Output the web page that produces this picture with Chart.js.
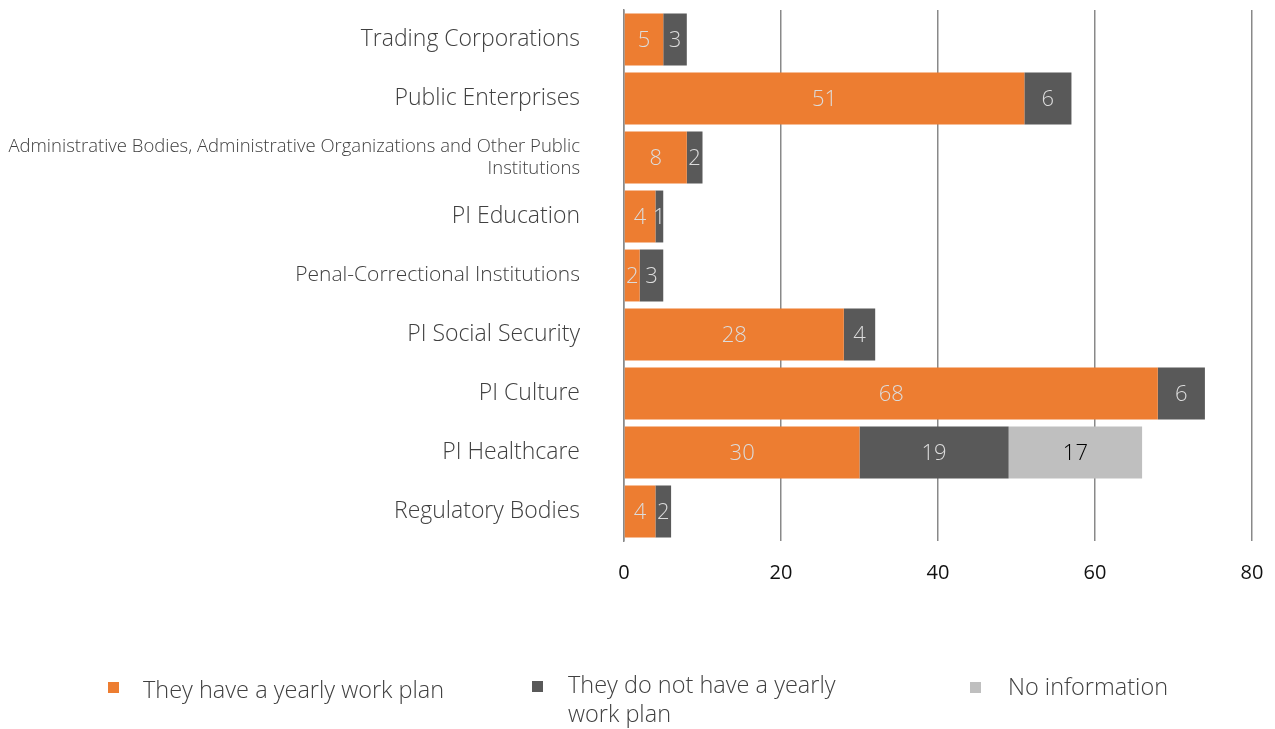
<!DOCTYPE html>
<html>
<head>
<meta charset="utf-8">
<script src="https://cdn.jsdelivr.net/npm/chart.js@4.4.1/dist/chart.umd.min.js"></script>
<style>
  html, body { margin: 0; padding: 0; background: #fff; }
  #wrap { position: relative; width: 1275px; height: 729px; }
  #chart { position: absolute; left: 0; top: 0; }
  .legend { position: absolute; font-family: "Open Sans", sans-serif; font-weight: 300; font-size: 23.5px; color: #404040; line-height: 29px; white-space: normal; }
  .sw { position: absolute; width: 11px; height: 11px; }
</style>
</head>
<body>
<div id="wrap">
  <canvas id="chart" width="1275" height="729"></canvas>
</div>
<script>
const categories = [
  'Trading Corporations',
  'Public Enterprises',
  ['Administrative Bodies, Administrative Organizations and Other Public', 'Institutions'],
  'PI Education',
  'Penal-Correctional Institutions',
  'PI Social Security',
  'PI Culture',
  'PI Healthcare',
  'Regulatory Bodies'
];
const seriesNames = ['They have a yearly work plan', 'They do not have a yearly work plan', 'No information'];
const withPlan    = [5, 51, 8, 4, 2, 28, 68, 30, 4];
const withoutPlan = [3, 6, 2, 1, 3, 4, 6, 19, 2];
const noInfo      = [null, null, null, null, null, null, null, 17, null];
const xTicks = [0, 20, 40, 60, 80];

const colors = ['#ED7D31', '#595959', '#BFBFBF'];
const labelColors = ['#dcdcdc', '#dcdcdc', '#000000'];
const FONT = '"Open Sans", sans-serif';

// Writes each segment's value in the middle of its bar
const valueLabels = {
  id: 'valueLabels',
  afterDatasetsDraw(chart) {
    const ctx = chart.ctx;
    ctx.save();
    ctx.font = '300 22px ' + FONT;
    ctx.textAlign = 'center';
    ctx.textBaseline = 'middle';
    chart.data.datasets.forEach((ds, di) => {
      const meta = chart.getDatasetMeta(di);
      meta.data.forEach((bar, i) => {
        const v = ds.data[i];
        if (v == null) return;
        const cx = (bar.x + bar.base) / 2;
        ctx.fillStyle = labelColors[di];
        ctx.fillText(String(v), cx, bar.y + 1);
      });
    });
    ctx.restore();
  }
};

// Category label sizes: the long two-line name and the penal one are set smaller
function categoryFont(c) {
  if (c.index === 2) return { family: FONT, size: 18.5, weight: 300, lineHeight: 1.19 };
  if (c.index === 4) return { family: FONT, size: 21, weight: 300 };
  return { family: FONT, size: 23, weight: 300 };
}

const chart = new Chart(document.getElementById('chart'), {
  type: 'bar',
  data: {
    labels: categories,
    datasets: [
      { label: seriesNames[0], data: withPlan, backgroundColor: colors[0] },
      { label: seriesNames[1], data: withoutPlan, backgroundColor: colors[1] },
      { label: seriesNames[2], data: noInfo, backgroundColor: colors[2] }
    ]
  },
  options: {
    indexAxis: 'y',
    responsive: false,
    animation: false,
    events: [],
    layout: { padding: { top: 10, right: 23, left: 0, bottom: 0 } },
    datasets: { bar: { categoryPercentage: 1, barPercentage: 0.88 } },
    plugins: { legend: { display: false }, tooltip: { enabled: false } },
    scales: {
      x: {
        stacked: true,
        min: 0, max: 80,
        afterBuildTicks(scale) { scale.ticks = xTicks.map(v => ({ value: v })); },
        afterFit(scale) { scale.height = 188; scale.paddingLeft = 0; scale.paddingRight = 0; },
        grid: { color: '#898989', lineWidth: 1.5, drawTicks: false },
        border: { display: false },
        ticks: { padding: 20, color: '#111', font: { family: FONT, size: 20, weight: 400 } }
      },
      y: {
        stacked: true,
        afterFit(scale) { scale.width = 624; scale.paddingTop = 0; scale.paddingBottom = 0; },
        grid: { display: false, drawTicks: false },
        border: { display: true, color: '#898989', width: 1.5 },
        ticks: {
          padding: 44,
          color: '#404040',
          font: categoryFont
        }
      }
    }
  },
  plugins: [valueLabels]
});

// Legend below the plot
const legendItems = [
  { sx: 108, sy: 682, tx: 143, ty: 675, w: 340, text: seriesNames[0] },
  { sx: 532, sy: 681, tx: 568, ty: 670, w: 290, text: seriesNames[1] },
  { sx: 970, sy: 682, tx: 1008, ty: 672, w: 260, text: seriesNames[2] }
];
const wrap = document.getElementById('wrap');
legendItems.forEach((it, i) => {
  const sw = document.createElement('div');
  sw.className = 'sw';
  sw.style.left = it.sx + 'px';
  sw.style.top = it.sy + 'px';
  sw.style.background = colors[i];
  wrap.appendChild(sw);
  const t = document.createElement('div');
  t.className = 'legend';
  t.style.left = it.tx + 'px';
  t.style.top = it.ty + 'px';
  t.style.width = it.w + 'px';
  t.textContent = it.text;
  wrap.appendChild(t);
});
</script>
</body>
</html>
